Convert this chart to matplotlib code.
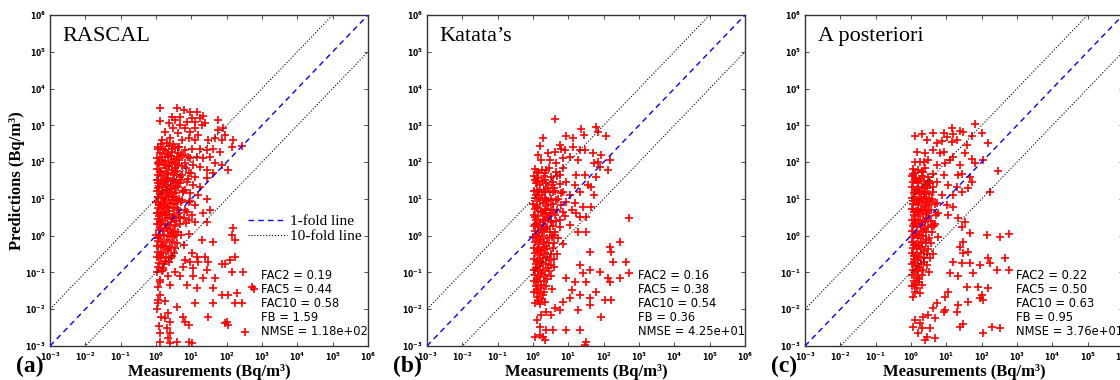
import math
import matplotlib
matplotlib.use("Agg")
import matplotlib.pyplot as plt
from matplotlib.ticker import FuncFormatter, LogLocator
from matplotlib.lines import Line2D

# ---------------- data (log10 of measurement, log10 of prediction) ----------------
panel_titles = ["RASCAL", "Katata\u2019s", "A posteriori"]
panel_letters = ["(a)", "(b)", "(c)"]
stats_fac2 = [0.19, 0.16, 0.22]
stats_fac5 = [0.44, 0.38, 0.50]
stats_fac10 = [0.58, 0.54, 0.63]
stats_fb = [1.59, 0.36, 0.95]
stats_nmse = ["1.18e+02", "4.25e+01", "3.76e+01"]
axis_exponents = [-3, -2, -1, 0, 1, 2, 3, 4, 5, 6]

rascal_outer = [
    (0.11, 3.46), (0.11, 3.12), (0.60, 3.48), (0.80, 3.41), (0.96, 3.37), (1.15, 3.37),
    (1.34, 3.26), (1.39, 3.05), (1.75, 3.15), (0.44, 3.24), (0.37, 3.05), (0.54, 3.15),
    (0.68, 3.24), (0.68, 3.01), (0.87, 3.10), (1.01, 3.19), (1.10, 3.10), (1.25, 3.19),
    (1.29, 3.01), (0.49, 2.92), (0.82, 2.92), (1.10, 2.92), (0.26, 2.83), (0.63, 2.78),
    (0.96, 2.81), (1.20, 2.74), (1.76, 2.87), (1.91, 2.92), (1.95, 2.74), (0.16, 2.60),
    (0.40, 2.65), (0.73, 2.60), (0.92, 2.65), (1.10, 2.60), (1.48, 2.60), (1.67, 2.65),
    (1.86, 2.60), (2.19, 2.60), (2.14, 2.42), (2.42, 2.45), (0.07, 2.37), (0.26, 2.33),
    (0.44, 2.37), (0.63, 2.42), (0.82, 2.33), (1.01, 2.37), (1.25, 2.37), (1.43, 2.33),
    (1.62, 2.37), (1.81, 2.28), (0.16, 2.15), (0.35, 2.19), (0.59, 2.15), (0.77, 2.19),
    (0.96, 2.10), (1.15, 2.15), (1.34, 2.10), (1.53, 2.15), (1.67, 1.97), (1.86, 1.92),
    (2.05, 1.79), (0.07, 1.97), (0.26, 1.92), (0.44, 2.01), (0.63, 1.92), (0.82, 1.97),
    (1.06, 1.92), (1.25, 1.88), (1.43, 1.79), (1.62, 1.70), (1.43, 1.56), (0.11, 1.74),
    (0.30, 1.70), (0.54, 1.74), (0.73, 1.65), (0.92, 1.70), (1.10, 1.60), (0.07, 1.51),
    (0.26, 1.47), (0.49, 1.51), (0.68, 1.42), (0.87, 1.47), (1.06, 1.38), (1.25, 1.33),
    (0.07, 1.29), (0.30, 1.24), (0.54, 1.29), (0.77, 1.20), (0.96, 1.15), (1.20, 1.11),
    (1.43, 1.01), (0.07, 1.06), (0.26, 1.01), (0.49, 1.06), (0.73, 0.97), (0.92, 0.92),
    (1.10, 0.83), (1.34, 0.61), (1.53, 0.70), (0.11, 0.83), (0.35, 0.79), (0.59, 0.74),
    (0.82, 0.70), (1.01, 0.56), (0.07, 0.61), (0.26, 0.56), (0.49, 0.52), (0.68, 0.47),
    (0.92, 0.43), (1.10, 0.38), (0.11, 0.38), (1.43, 0.36),
    (2.19, 0.22), (2.14, 0.02), (2.24, -0.12), (1.29, -0.12), (1.62, -0.16), (2.24, -0.57),
    (2.09, -0.66), (1.01, -0.48), (1.15, -0.57), (1.39, -0.57), (0.82, -0.66), (0.96, -0.71),
    (1.20, -0.71), (1.48, -0.71), (1.86, -0.78), (1.95, -0.78), (0.77, -0.84), (1.06, -0.89),
    (1.43, -0.93), (2.14, -0.98), (2.47, -0.98), (0.54, -0.98), (0.21, -0.93), (0.35, -1.11),
    (0.68, -1.11), (1.06, -1.11), (1.34, -1.16), (1.67, -1.16), (0.11, -1.21), (0.40, -1.34),
    (0.87, -1.34), (1.15, -1.43), (1.62, -1.43), (1.86, -1.61), (2.05, -1.61), (2.28, -1.57),
    (2.71, -1.39), (2.76, -1.45), (0.07, -1.75), (0.07, -1.84), (0.26, -1.79), (0.59, -1.93),
    (1.10, -1.84), (1.62, -1.84), (2.24, -1.84), (2.42, -1.84), (0.35, -2.11), (0.26, -2.25),
    (0.40, -2.34), (0.77, -2.20), (0.82, -2.34), (0.92, -2.43), (1.48, -2.20), (1.95, -2.38),
    (2.05, -2.43), (2.00, -2.34), (2.52, -2.61), (0.30, -2.52), (0.11, -2.66), (0.40, -2.66),
    (0.35, -2.79), (0.11, -2.88), (0.40, -2.93), (0.59, -2.90), (0.92, -2.88), (1.01, -2.93),
    (0.02, -1.00), (0.05, -1.40), (0.10, -1.60), (0.03, -2.00), (0.15, -2.20), (0.08, -2.45),
    (0.20, -0.88), (0.12, -1.25),
]
rascal_core = [
    (0.05, 2.42), (0.20, 2.37), (0.38, 2.45), (0.55, 2.39),
    (0.10, 2.26), (0.30, 2.22), (0.45, 2.28), (0.62, 2.24), (0.70, 2.20),
    (0.02, 2.11), (0.18, 2.07), (0.34, 2.13), (0.50, 2.09), (0.66, 2.05),
    (0.08, 1.96), (0.22, 1.93), (0.40, 1.98), (0.58, 1.94), (0.74, 1.90),
    (0.03, 1.81), (0.15, 1.77), (0.28, 1.83), (0.46, 1.79), (0.60, 1.76),
    (0.06, 1.66), (0.20, 1.62), (0.35, 1.68), (0.52, 1.64), (0.68, 1.60),
    (0.02, 1.51), (0.14, 1.48), (0.27, 1.53), (0.42, 1.49), (0.57, 1.46), (0.72, 1.52),
    (0.08, 1.36), (0.19, 1.33), (0.33, 1.38), (0.48, 1.34), (0.63, 1.31),
    (0.03, 1.21), (0.16, 1.18), (0.29, 1.23), (0.44, 1.19), (0.58, 1.16), (0.75, 1.22),
    (0.07, 1.06), (0.21, 1.03), (0.36, 1.08), (0.50, 1.04), (0.66, 1.01),
    (0.01, 0.91), (0.13, 0.88), (0.26, 0.93), (0.40, 0.89), (0.55, 0.86), (0.70, 0.92),
    (0.05, 0.76), (0.18, 0.73), (0.32, 0.78), (0.47, 0.74), (0.61, 0.71),
    (0.02, 0.61), (0.12, 0.58), (0.24, 0.63), (0.38, 0.59), (0.52, 0.56), (0.66, 0.62),
    (0.06, 0.46), (0.17, 0.43), (0.30, 0.48), (0.44, 0.44), (0.58, 0.41), (0.78, 0.47),
    (0.03, 0.31), (0.14, 0.28), (0.25, 0.33), (0.39, 0.29), (0.53, 0.26), (0.68, 0.32),
    (0.08, 0.16), (0.20, 0.13), (0.34, 0.18), (0.48, 0.14), (0.62, 0.11),
    (0.01, 0.01), (0.12, -0.02), (0.24, 0.03), (0.37, -0.01), (0.51, -0.04), (0.70, 0.02),
    (0.05, -0.14), (0.17, -0.17), (0.30, -0.12), (0.45, -0.16), (0.60, -0.19),
    (0.02, -0.29), (0.14, -0.32), (0.26, -0.27), (0.40, -0.31), (0.55, -0.34),
    (0.07, -0.44), (0.20, -0.47), (0.33, -0.42), (0.50, -0.46),
    (0.03, -0.59), (0.15, -0.62), (0.28, -0.57), (0.42, -0.61),
    (0.08, -0.74), (0.22, -0.77), (0.36, -0.72),
    (0.85, 1.85), (0.90, 1.55), (0.82, 1.25), (0.95, 0.95), (0.88, 0.65), (0.84, 0.35),
    (0.92, 0.05), (0.80, -0.25), (0.98, 1.70), (0.90, 2.15),
    (0.09, 2.00), (0.25, 2.03), (0.42, 2.17), (0.12, 1.72), (0.32, 1.57), (0.38, 1.90),
    (0.05, 1.43), (0.23, 1.40), (0.40, 1.27), (0.10, 1.12), (0.30, 1.13), (0.45, 0.98),
    (0.08, 0.83), (0.22, 0.83), (0.36, 0.68), (0.09, 0.53), (0.28, 0.55), (0.42, 0.37),
    (0.10, 0.22), (0.30, 0.22), (0.42, 0.07), (0.06, -0.07), (0.20, -0.25), (0.35, -0.37),
    (0.12, -0.52), (0.25, -0.68), (0.15, 2.48), (0.30, 2.52), (0.48, 2.50), (0.65, 2.40),
    (0.55, 1.85), (0.62, 1.42), (0.60, 0.95), (0.64, 0.50), (0.57, 0.02), (0.46, -0.55),
    (0.05, -0.85), (0.18, -0.95),
]

katata_outer = [
    (0.62, 3.16), (0.29, 2.65), (0.19, 2.44), (0.94, 2.71), (1.13, 2.65), (1.37, 2.89),
    (1.43, 2.74), (1.79, 2.95), (1.84, 2.83), (2.06, 2.71), (0.76, 2.46), (0.80, 2.37),
    (0.90, 2.33), (0.62, 2.28), (1.13, 2.42), (1.32, 2.33), (1.46, 2.33), (0.14, 2.19),
    (0.43, 2.24), (0.24, 2.06), (0.47, 2.06), (0.66, 1.97), (0.85, 2.10), (1.04, 2.15),
    (1.27, 2.06), (1.70, 2.24), (1.93, 2.19), (1.84, 2.01), (1.74, 1.97), (2.17, 2.06),
    (2.12, 1.78), (1.89, 1.88), (0.10, 1.74), (0.38, 1.78), (0.66, 1.74), (0.85, 1.83),
    (0.76, 1.65), (1.23, 1.65), (1.46, 1.65), (1.79, 1.60), (0.05, 1.51), (0.33, 1.51),
    (0.57, 1.47), (0.94, 1.47), (1.18, 1.38), (1.56, 1.38), (1.65, 1.31), (1.32, 1.20),
    (0.10, 1.24), (0.33, 1.20), (0.57, 1.20), (0.80, 1.15), (1.04, 1.11), (1.74, 1.11),
    (0.14, 1.02), (0.38, 0.97), (0.66, 0.97), (0.94, 0.92), (1.18, 0.88), (1.42, 0.79),
    (1.65, 0.79), (0.10, 0.74), (0.33, 0.70), (0.57, 0.70), (0.85, 0.65), (1.09, 0.70),
    (1.23, 0.61), (1.32, 0.52), (1.51, 0.52), (0.05, 0.52), (0.29, 0.43), (0.52, 0.38),
    (0.76, 0.43), (1.04, 0.29), (2.73, 0.47), (0.05, 0.29),
    (1.51, 0.11), (1.28, 0.11), (2.45, -0.16), (2.17, -0.30), (2.22, -0.44), (1.60, -0.44),
    (2.26, -0.71), (2.64, -0.71), (2.73, -1.01), (2.45, -1.16), (1.32, -0.80), (1.42, -1.02),
    (1.60, -0.93), (1.89, -0.98), (1.18, -1.25), (1.51, -1.25), (0.94, -1.16), (2.12, -1.16),
    (2.17, -1.25), (1.79, -1.52), (1.32, -1.61), (1.60, -1.70), (2.03, -1.75), (2.22, -1.75),
    (1.04, -1.70), (0.85, -1.80), (1.27, -2.02), (1.60, -1.89), (1.93, -2.20), (0.62, -1.98),
    (0.52, -2.16), (0.57, -2.57), (0.94, -2.57), (1.32, -2.57), (0.38, -2.57), (0.19, -2.48),
    (0.19, -2.70), (0.29, -2.75), (0.33, -2.84), (1.51, -2.88), (1.46, -2.97), (0.05, -2.75),
    (0.10, -2.29), (0.24, -2.16), (0.38, -2.07), (0.76, -2.02), (1.09, -1.48),
]
katata_core = [
    (0.05, 1.82), (0.25, 1.78), (0.45, 1.84),
    (0.02, 1.62), (0.15, 1.58), (0.32, 1.63), (0.50, 1.59), (0.68, 1.61),
    (0.08, 1.42), (0.20, 1.38), (0.38, 1.43), (0.55, 1.39), (0.75, 1.41),
    (0.03, 1.22), (0.16, 1.18), (0.30, 1.23), (0.47, 1.19), (0.62, 1.21), (0.85, 1.18),
    (0.06, 1.02), (0.19, 0.98), (0.35, 1.03), (0.50, 0.99), (0.70, 1.01),
    (0.01, 0.87), (0.12, 0.83), (0.27, 0.88), (0.42, 0.84), (0.58, 0.86), (0.80, 0.83),
    (0.07, 0.72), (0.22, 0.68), (0.37, 0.73), (0.52, 0.69), (0.68, 0.71),
    (0.03, 0.57), (0.15, 0.53), (0.30, 0.58), (0.46, 0.54), (0.62, 0.56), (0.90, 0.53),
    (0.08, 0.42), (0.20, 0.38), (0.34, 0.43), (0.50, 0.39), (0.66, 0.41),
    (0.02, 0.27), (0.13, 0.23), (0.27, 0.28), (0.41, 0.24), (0.56, 0.26), (0.75, 0.23),
    (0.06, 0.12), (0.18, 0.08), (0.32, 0.13), (0.47, 0.09), (0.63, 0.11),
    (0.01, -0.03), (0.12, -0.07), (0.25, -0.02), (0.39, -0.06), (0.54, -0.04), (0.72, -0.07),
    (0.05, -0.18), (0.17, -0.22), (0.30, -0.17), (0.45, -0.21), (0.60, -0.19), (0.85, -0.22),
    (0.02, -0.33), (0.14, -0.37), (0.27, -0.32), (0.41, -0.36), (0.57, -0.34),
    (0.07, -0.48), (0.20, -0.52), (0.34, -0.47), (0.50, -0.51), (0.68, -0.49),
    (0.03, -0.63), (0.15, -0.67), (0.29, -0.62), (0.44, -0.66), (0.60, -0.64),
    (0.08, -0.78), (0.21, -0.82), (0.36, -0.77), (0.52, -0.81),
    (0.02, -0.93), (0.14, -0.97), (0.28, -0.92), (0.45, -0.96),
    (0.06, -1.08), (0.19, -1.12), (0.33, -1.07), (0.50, -1.11),
    (0.03, -1.23), (0.15, -1.27), (0.30, -1.22),
    (0.08, -1.38), (0.22, -1.42), (0.38, -1.37),
    (0.04, -1.53), (0.17, -1.57), (0.32, -1.52),
    (0.10, -1.68), (0.26, -1.72),
    (0.05, -1.83), (0.20, -1.87),
    (0.10, 1.50), (0.25, 1.48), (0.42, 1.30), (0.09, 1.10), (0.26, 1.10), (0.40, 0.93),
    (0.10, 0.78), (0.26, 0.63), (0.40, 0.48), (0.09, 0.33), (0.22, 0.18), (0.38, 0.18),
    (0.09, 0.02), (0.20, -0.12), (0.36, -0.27), (0.10, -0.40), (0.24, -0.42), (0.40, -0.57),
    (0.10, -0.70), (0.26, -0.72), (0.42, -0.88), (0.09, -0.87), (0.22, -1.02), (0.40, -1.17),
    (0.10, -1.17), (0.24, -1.33), (0.12, -1.48), (0.28, -1.62), (0.14, -1.78), (0.35, -1.80),
    (0.55, -1.45), (0.60, -0.85), (0.58, 0.02), (0.48, 0.62), (0.60, 1.30), (0.33, 1.70),
    (0.15, 1.70),
]

apost_outer = [
    (0.11, 2.71), (0.30, 2.76), (0.63, 2.78), (0.92, 2.80), (1.15, 2.92), (1.20, 2.76),
    (1.39, 2.85), (1.48, 2.83), (1.81, 3.04), (2.00, 2.80), (1.72, 2.71), (0.44, 2.60),
    (0.73, 2.51), (0.87, 2.58), (1.01, 2.69), (1.15, 2.56), (1.29, 2.60), (1.58, 2.46),
    (2.19, 2.51), (0.16, 2.28), (0.40, 2.24), (0.63, 2.33), (0.82, 2.24), (0.92, 2.28),
    (1.20, 2.15), (1.53, 2.24), (1.72, 2.08), (1.81, 1.97), (2.05, 2.06), (0.26, 2.01),
    (0.49, 2.06), (0.73, 1.92), (0.96, 1.97), (1.10, 2.06), (1.39, 1.92), (0.07, 1.69),
    (0.35, 1.74), (0.63, 1.69), (0.92, 1.65), (1.34, 1.65), (1.43, 1.69), (1.67, 1.60),
    (1.72, 1.47), (1.62, 1.29), (2.47, 1.77), (0.21, 1.47), (0.49, 1.42), (0.73, 1.47),
    (1.06, 1.38), (1.29, 1.33), (1.43, 1.20), (0.11, 1.20), (0.40, 1.15), (0.63, 1.20),
    (0.87, 1.11), (1.20, 1.11), (2.24, 1.20), (0.16, 0.97), (0.44, 0.92), (0.73, 0.88),
    (1.01, 0.83), (1.20, 0.79), (0.21, 0.70), (0.49, 0.65), (0.77, 0.61), (1.06, 0.56),
    (1.34, 0.47), (1.53, 0.38), (1.43, 0.24), (0.11, 0.43), (0.40, 0.38), (0.68, 0.33),
    (1.67, 0.06), (2.14, 0.02), (2.52, -0.03), (2.76, 0.05), (1.48, -0.16), (1.39, -0.30),
    (1.48, -0.48), (1.62, -0.44), (2.19, -0.62), (2.66, -0.62), (2.24, -0.75), (1.95, -0.80),
    (2.42, -0.93), (2.76, -0.93), (1.20, -0.71), (1.43, -0.75), (1.67, -0.75), (1.76, -1.02),
    (1.34, -1.11), (1.10, -1.02), (1.58, -1.39), (1.91, -1.39), (2.19, -1.43), (1.62, -1.80),
    (1.95, -1.70), (2.05, -1.75), (2.00, -1.61), (1.06, -1.52), (0.96, -1.66), (1.34, -1.89),
    (1.29, -2.07), (0.96, -2.02), (0.73, -1.84), (0.63, -1.98), (0.49, -2.16), (0.35, -2.20),
    (0.68, -2.25), (0.92, -2.07), (0.54, -2.52), (1.39, -2.48), (1.48, -2.40), (2.05, -2.66),
    (2.28, -2.48), (2.52, -2.52), (0.21, -2.66), (0.44, -2.75), (0.40, -2.84), (0.68, -2.79),
    (0.26, -2.38), (0.11, -2.29), (0.07, -2.48), (0.30, -2.52),
]
apost_core = [
    (0.05, 1.82), (0.20, 1.78), (0.40, 1.83),
    (0.02, 1.62), (0.14, 1.58), (0.30, 1.63), (0.48, 1.59),
    (0.07, 1.47), (0.20, 1.43), (0.36, 1.48), (0.55, 1.44),
    (0.03, 1.32), (0.16, 1.28), (0.30, 1.33), (0.45, 1.29), (0.62, 1.31),
    (0.08, 1.17), (0.22, 1.13), (0.37, 1.18), (0.52, 1.14),
    (0.02, 1.02), (0.14, 0.98), (0.28, 1.03), (0.43, 0.99), (0.60, 1.01),
    (0.06, 0.87), (0.19, 0.83), (0.33, 0.88), (0.50, 0.84), (0.68, 0.86),
    (0.03, 0.72), (0.15, 0.68), (0.28, 0.73), (0.42, 0.69), (0.58, 0.71),
    (0.08, 0.57), (0.20, 0.53), (0.35, 0.58), (0.50, 0.54), (0.70, 0.56),
    (0.02, 0.42), (0.13, 0.38), (0.26, 0.43), (0.40, 0.39), (0.56, 0.41),
    (0.06, 0.27), (0.18, 0.23), (0.32, 0.28), (0.47, 0.24), (0.64, 0.26),
    (0.03, 0.12), (0.15, 0.08), (0.28, 0.13), (0.43, 0.09), (0.60, 0.11),
    (0.07, -0.03), (0.20, -0.07), (0.34, -0.02), (0.50, -0.06), (0.75, -0.04),
    (0.02, -0.18), (0.14, -0.22), (0.27, -0.17), (0.42, -0.21), (0.58, -0.19),
    (0.06, -0.33), (0.18, -0.37), (0.32, -0.32), (0.48, -0.36),
    (0.03, -0.48), (0.15, -0.52), (0.29, -0.47), (0.45, -0.51), (0.62, -0.49),
    (0.08, -0.63), (0.21, -0.67), (0.36, -0.62),
    (0.02, -0.78), (0.14, -0.82), (0.28, -0.77), (0.44, -0.81),
    (0.06, -0.93), (0.19, -0.97), (0.34, -0.92),
    (0.03, -1.08), (0.16, -1.12), (0.30, -1.07),
    (0.08, -1.23), (0.22, -1.27),
    (0.04, -1.38), (0.17, -1.42),
    (0.10, -1.53), (0.25, -1.57),
    (0.05, -1.68),
    (0.10, 1.70), (0.30, 1.72), (0.10, 1.52), (0.25, 1.55), (0.42, 1.38), (0.10, 1.25),
    (0.24, 1.22), (0.38, 1.05), (0.09, 0.93), (0.24, 0.93), (0.40, 0.78), (0.09, 0.63),
    (0.23, 0.63), (0.42, 0.48), (0.09, 0.33), (0.24, 0.35), (0.38, 0.18), (0.09, 0.03),
    (0.22, 0.03), (0.42, -0.12), (0.09, -0.25), (0.22, -0.28), (0.36, -0.42), (0.09, -0.55),
    (0.22, -0.58), (0.38, -0.72), (0.09, -0.72), (0.22, -0.88), (0.10, -1.00), (0.24, -1.18),
    (0.12, -1.32), (0.30, -1.35), (0.50, -1.00), (0.55, -0.60), (0.60, 0.30), (0.55, 0.95),
    (0.50, 1.50), (0.36, 2.00), (0.10, 2.00),
]

panels_points = [rascal_outer + rascal_core, katata_outer + katata_core, apost_outer + apost_core]

# ---------------- figure ----------------
W, H = 1120, 380
fig = plt.figure(figsize=(W / 100, H / 100), dpi=100)

ax_left_px = [50, 427, 805]
ax_w_px, ax_top_px, ax_bot_px = 318, 15, 346

serif = ["Liberation Serif", "DejaVu Serif"]


def tickfmt(v, pos):
    e = int(round(math.log10(v)))
    return r"$\mathbf{10^{%d}}$" % e


line_vals = [10.0 ** e for e in axis_exponents]

for i in range(3):
    ax = fig.add_axes([ax_left_px[i] / W, 1 - ax_bot_px / H,
                       ax_w_px / W, (ax_bot_px - ax_top_px) / H])
    ax.set_xscale("log")
    ax.set_yscale("log")
    ax.set_xlim(1e-3, 1e6)
    ax.set_ylim(1e-3, 1e6)

    xs = [10.0 ** p[0] for p in panels_points[i]]
    ys = [10.0 ** p[1] for p in panels_points[i]]
    ax.plot(xs, ys, linestyle="none", marker="+", color="red",
            markersize=5.5, markeredgewidth=1.2, zorder=2)

    ax.plot(line_vals, line_vals, color="blue", linestyle=(0, (4, 3)), lw=1.0, zorder=3)
    ax.plot(line_vals, [v * 10 for v in line_vals], color="black", linestyle=":", lw=0.8,
            zorder=3)
    ax.plot(line_vals, [v / 10 for v in line_vals], color="black", linestyle=":", lw=0.8,
            zorder=3)

    ax.xaxis.set_major_locator(LogLocator(base=10, numticks=12))
    ax.yaxis.set_major_locator(LogLocator(base=10, numticks=12))
    ax.xaxis.set_minor_locator(LogLocator(base=10, subs=[], numticks=12))
    ax.yaxis.set_minor_locator(LogLocator(base=10, subs=[], numticks=12))
    ax.xaxis.set_major_formatter(FuncFormatter(tickfmt))
    ax.yaxis.set_major_formatter(FuncFormatter(tickfmt))
    ax.tick_params(which="both", direction="in", top=True, right=True,
                   length=3, width=0.6, labelsize=5.5, pad=3, color="#333333")
    for sp in ax.spines.values():
        sp.set_color("#333333")
        sp.set_linewidth(1.0)

    ax.text(0.04, 0.935, panel_titles[i], transform=ax.transAxes, family=serif,
            fontsize=16, va="center", ha="left")

    stats = ("FAC2 = %.2f\nFAC5 = %.2f\nFAC10 = %.2f\nFB = %.2f\nNMSE = %s"
             % (stats_fac2[i], stats_fac5[i], stats_fac10[i], stats_fb[i], stats_nmse[i]))
    ax.text(0.665, 0.025, stats, transform=ax.transAxes, fontsize=8.3,
            family="DejaVu Sans", va="bottom", ha="left", linespacing=1.1)

    ax.set_xlabel("Measurements (Bq/m\u00b3)", family=serif, fontweight="bold",
                  fontsize=12, labelpad=1)
    if i == 0:
        ax.set_ylabel("Predictions (Bq/m\u00b3)", family=serif, fontweight="bold",
                      fontsize=12, labelpad=0)
        handles = [Line2D([], [], color="blue", linestyle=(0, (4, 3)), lw=1.0),
                   Line2D([], [], color="black", linestyle=":", lw=0.8)]
        ax.legend(handles, ["1-fold line", "10-fold line"], loc="upper left",
                  bbox_to_anchor=(0.59, 0.43), frameon=False,
                  prop={"family": serif, "size": 11}, handlelength=2.5,
                  handletextpad=0.2, borderpad=0.2, labelspacing=0.1)

    fig.text((ax_left_px[i] - 34) / W, 1 - 366 / H, panel_letters[i], family=serif,
             fontweight="bold", fontsize=17, ha="left", va="center")

fig.savefig("out.png", dpi=100)
